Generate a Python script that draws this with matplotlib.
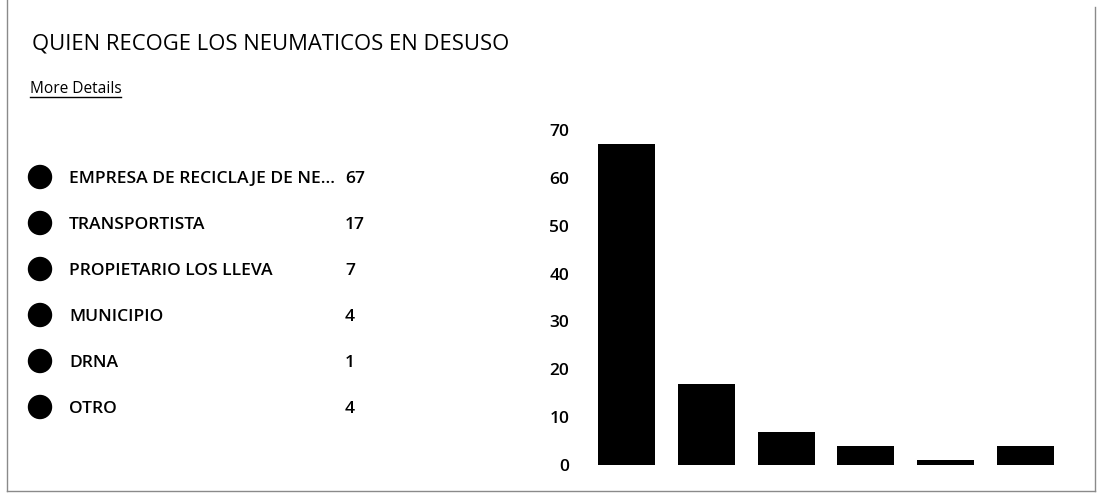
import matplotlib
matplotlib.use("Agg")
import matplotlib.pyplot as plt
from matplotlib.patches import Circle

# ---- data ----
title = "QUIEN RECOGE LOS NEUMATICOS EN DESUSO"
link_text = "More Details"
categories = ["EMPRESA DE RECICLAJE DE NE...", "TRANSPORTISTA",
              "PROPIETARIO LOS LLEVA", "MUNICIPIO", "DRNA", "OTRO"]
values = [67, 17, 7, 4, 1, 4]
y_ticks = [0, 10, 20, 30, 40, 50, 60, 70]

W, H = 1099, 497
plt.rcParams['font.family'] = ['Open Sans', 'DejaVu Sans']

fig = plt.figure(figsize=(W / 100, H / 100), dpi=100)
fig.patch.set_facecolor('white')

# overlay axes in pixel coordinates (origin top-left)
ov = fig.add_axes([0, 0, 1, 1])
ov.set_xlim(0, W)
ov.set_ylim(H, 0)
ov.axis('off')

renderer = fig.canvas.get_renderer()


def fit(t, target_w):
    bb = t.get_window_extent(renderer)
    t.set_fontsize(t.get_fontsize() * target_w / bb.width)
    return t


# card border
bc = '#8a8a8a'
ov.plot([7, 7], [0, 491], color=bc, lw=1)
ov.plot([1095, 1095], [7, 491], color=bc, lw=1)
ov.plot([7, 1095], [491, 491], color=bc, lw=1)

# title
t = ov.text(32, 49.5, title, fontsize=16, color='black', va='baseline',
            ha='left', fontweight='medium')
fit(t, 476)

# "More Details" link with underline
lk = ov.text(29.5, 93, link_text, fontsize=10, color='black', va='baseline',
             ha='left', fontweight='medium')
fit(lk, 92)
bb = lk.get_window_extent(renderer)
ov.plot([bb.x0, bb.x1], [96.5, 96.5], color='black', lw=1)

# legend
row0, step = 177, 46
label_size = None
for i, (c, v) in enumerate(zip(categories, values)):
    y = row0 + step * i
    ov.add_patch(Circle((40, y), 11.5, color='black'))
    lt = ov.text(69, y + 6, c, fontsize=11, color='black', va='baseline',
                 ha='left', fontweight='semibold')
    if i == 0:
        fit(lt, 266)
        label_size = lt.get_fontsize()
    else:
        lt.set_fontsize(label_size)
    ov.text(345, y + 6, str(v), fontsize=label_size, color='black',
            va='baseline', ha='left', fontweight='semibold')

# bar chart
left_px, right_px = 586.6, 1065.4
zero_px, top_px = 465, 130
ax = fig.add_axes([left_px / W, (H - zero_px) / H,
                   (right_px - left_px) / W, (zero_px - top_px) / H])
ax.set_facecolor('none')
ax.bar(range(len(values)), values, width=0.714, color='black')
ax.set_xlim(-0.5, len(values) - 0.5)
ax.set_ylim(0, 70)
ax.set_yticks(y_ticks)
ax.set_yticklabels([str(v) for v in y_ticks], fontweight='semibold')
ax.set_xticks([])
for s in ax.spines.values():
    s.set_visible(False)
ax.tick_params(axis='y', length=0, pad=17.5 * 72 / 100, labelsize=12.5,
               labelcolor='black')

fig.savefig('out.png', dpi=100, facecolor='white')
